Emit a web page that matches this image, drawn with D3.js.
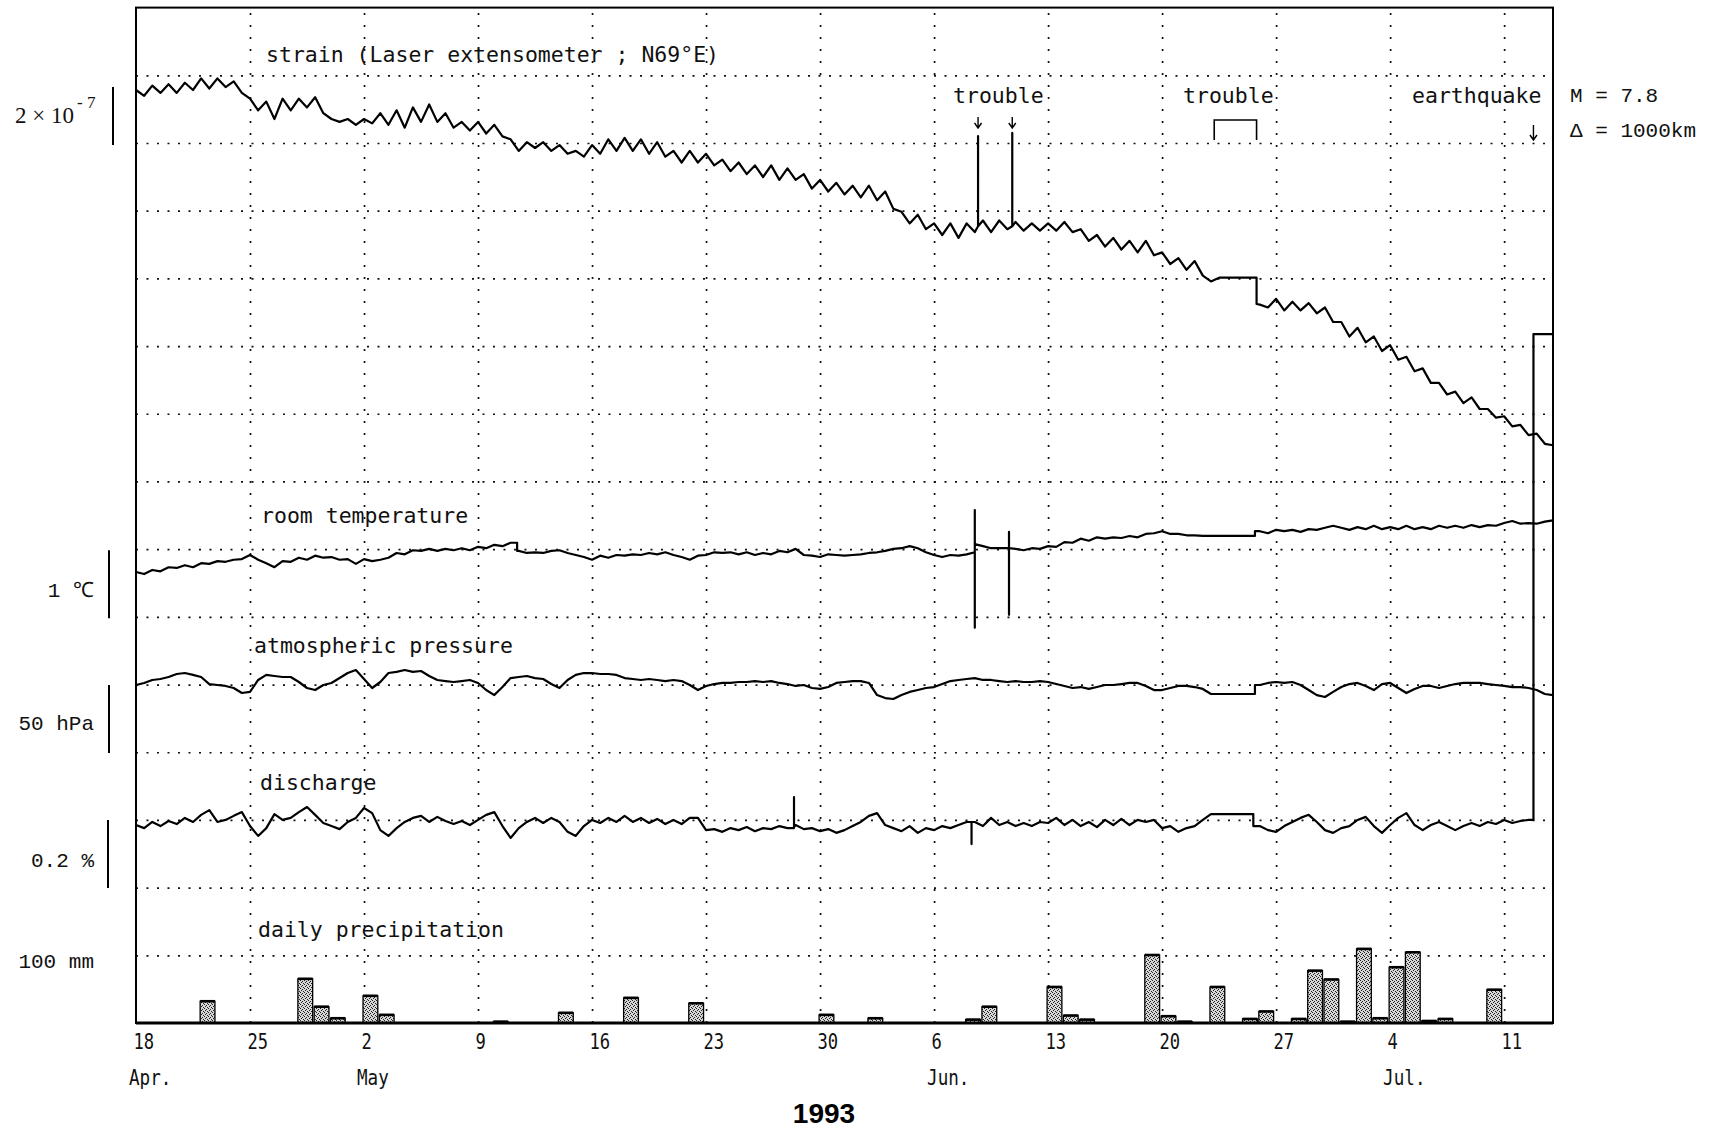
<!DOCTYPE html>
<html>
<head>
<meta charset="utf-8">
<script src="https://cdn.jsdelivr.net/npm/d3@7"></script>
<style>
body{margin:0;background:#fff}
svg{display:block}
</style>
</head>
<body>
<svg id="chart"></svg>
<script>
var screen = {width:1712, height:1131}
var frame = {left:136, right:1553, top:7.6, bottom:1023}

// x axis ticks (1993)
var weekTicks = ["1993-04-18","1993-04-25","1993-05-02","1993-05-09","1993-05-16","1993-05-23","1993-05-30",
                 "1993-06-06","1993-06-13","1993-06-20","1993-06-27","1993-07-04","1993-07-11"]
var monthTicks = ["1993-04-18","1993-05-02","1993-06-06","1993-07-04"]
var monthNames = ["Apr.","May","Jun.","Jul."]

// all traces sampled every half day from 18 Apr 00h
var stepDays = 0.5

// strain, units of 1e-8, relative to 18 Apr
var strainValues = [
  0,-2,1.5,-1,2,-1,2.5,0,4,0.5,
  4,1,3,-1,-3,-7,-4,-10,-3,-7,
  -3,-6,-2.5,-8,-10,-11,-10,-12,-10,-11.5,
  -8,-12,-7,-13,-6,-11,-5,-11,-8,-13,
  -11,-14,-11,-15,-12,-16,-17,-21,-18,-20,
  -18,-21,-19,-22,-21,-23,-19,-22,-17,-21,
  -16.5,-21,-17,-22,-18,-23,-21,-25,-21,-25,
  -22,-26,-24,-28,-25,-29,-26,-30,-26,-31,
  -27,-31,-29,-34,-31,-35,-32,-36,-33,-37,
  -33,-38,-35,-41,-42,-46,-43,-48,-46,-50,
  -46,-51,-46,-49,-45,-49,-45,-48,-45.5,-48.5,
  -46,-48.5,-46,-48.5,-45.5,-49,-48,-52,-50,-54,
  -51,-55,-52,-56,-52,-57,-56,-60,-58,-62,
  -59,-64,-66,-64.7,-64.7,-64.7,-64.7,-64.7,-74,-75,
  -72,-76,-73,-76,-73.5,-77,-75,-80,-80,-85,
  -82,-87,-85,-90,-88,-93,-92,-97,-96,-101,
  -101,-105,-104,-108,-106,-110,-110,-113,-112.5,-116,
  -115.5,-119,-118.5,-122,-122.5]
// [day, values passed through at that instant]
var strainEvents = [[51.7,-47,-15.9,-47],[53.8,-47,-14.8,-47],[68.8,-64.7,-73.8]]

// room temperature, deg C relative
var tempValues = [
  0,-0.03,0.03,0.01,0.07,0.06,0.10,0.07,0.13,0.12,
  0.16,0.15,0.18,0.19,0.25,0.18,0.13,0.07,0.16,0.15,
  0.21,0.18,0.24,0.21,0.22,0.18,0.19,0.12,0.19,0.16,
  0.18,0.21,0.28,0.26,0.32,0.31,0.34,0.31,0.34,0.32,
  0.35,0.32,0.37,0.35,0.40,0.38,0.43,0.31,0.28,0.29,
  0.28,0.31,0.32,0.28,0.25,0.22,0.18,0.24,0.21,0.25,
  0.24,0.26,0.25,0.28,0.26,0.29,0.25,0.22,0.18,0.24,
  0.25,0.29,0.28,0.29,0.26,0.29,0.25,0.28,0.26,0.31,
  0.29,0.34,0.25,0.24,0.22,0.26,0.25,0.24,0.25,0.26,
  0.28,0.29,0.31,0.34,0.35,0.38,0.35,0.29,0.25,0.22,
  0.25,0.24,0.26,0.29,0.38,0.35,0.35,0.35,0.34,0.32,
  0.35,0.34,0.38,0.37,0.44,0.43,0.49,0.46,0.51,0.49,
  0.51,0.50,0.53,0.51,0.56,0.57,0.60,0.56,0.56,0.54,
  0.54,0.53,0.53,0.53,0.53,0.53,0.53,0.53,0.60,0.57,
  0.62,0.60,0.62,0.59,0.63,0.62,0.65,0.68,0.65,0.62,
  0.66,0.63,0.68,0.63,0.66,0.63,0.68,0.63,0.66,0.63,
  0.68,0.65,0.68,0.65,0.69,0.66,0.69,0.68,0.72,0.75,
  0.71,0.72,0.71,0.74,0.76]
var tempEvents = [[23.4,0.43,0.31],[51.5,0.29,0.91,-0.82,0.41],[53.6,0.35,0.59,-0.63,0.35],[68.7,0.53,0.60]]

// atmospheric pressure, hPa relative
var pressureValues = [
  0,1.5,3.7,4.4,5.9,8.1,8.8,7.4,5.9,0.7,
  0,-0.7,-2.2,-5.9,-5.1,3.7,7.4,6.6,5.9,5.9,
  2.2,-2.2,-3.7,0,1.5,5.1,8.8,11.0,4.4,-2.2,
  2.2,8.8,9.6,11.0,9.6,10.3,6.6,3.7,2.9,2.2,
  2.9,3.7,1.5,-3.7,-7.4,-1.5,5.1,5.9,6.6,5.1,
  4.4,0.7,-2.2,3.7,7.4,8.8,8.8,8.1,8.1,7.4,
  5.1,4.4,3.7,4.4,3.7,2.9,3.7,2.9,0,-3.7,
  -0.7,0.7,1.5,1.5,2.2,2.2,2.9,2.2,2.9,1.5,
  0.7,-0.7,0,-2.2,-2.9,-1.5,1.5,2.2,2.9,2.9,
  1.5,-7.4,-9.6,-10.3,-7.4,-5.1,-3.7,-2.2,-1.5,0.7,
  2.9,3.7,4.4,5.1,3.7,3.7,2.9,2.2,2.9,2.2,
  2.2,2.9,2.2,0.7,-0.7,-2.2,-1.5,-2.9,-1.5,0,
  0,0.7,1.5,1.5,-0.7,-3.7,-3.7,-2.2,-0.7,-0.7,
  -1.5,-2.9,-6.6,-6.6,-6.6,-6.6,-6.6,-6.6,0,1.5,
  2.2,1.5,2.2,0,-3.7,-7.4,-8.8,-5.1,-1.5,0.7,
  1.5,-0.7,-3.7,0.7,1.5,-2.2,-5.9,-2.9,-0.7,-0.7,
  -2.2,-0.7,0.7,1.5,1.5,1.5,0.7,0,-0.7,-1.5,
  -1.5,-2.2,-3.7,-6.6,-7.4]
var pressureEvents = [[68.7,-6.6,0]]

// discharge, % relative
var dischargeValues = [
  -0.006,-0.015,0.003,-0.009,0.006,-0.003,0.015,0.003,0.024,0.038,
  0.003,0.009,0.021,0.032,-0.009,-0.038,-0.015,0.026,0.009,0.015,
  0.032,0.047,0.024,0,-0.009,-0.018,0.003,0.015,0.044,0.029,
  -0.021,-0.038,-0.015,0.003,0.015,0.021,0.003,0.018,0.006,-0.003,
  0.006,-0.006,0.009,0.024,0.032,-0.009,-0.044,-0.015,0.003,0.015,
  0,0.015,0.003,-0.026,-0.038,-0.009,0.009,0,0.015,0.003,
  0.021,0.003,0.015,0,0.012,-0.003,0.009,-0.003,0.015,0.015,
  -0.021,-0.018,-0.026,-0.015,-0.021,-0.012,-0.024,-0.015,-0.018,-0.009,
  -0.015,-0.006,-0.018,-0.015,-0.024,-0.018,-0.029,-0.021,-0.009,0.003,
  0.021,0.029,-0.006,-0.015,-0.024,-0.009,-0.029,-0.015,-0.021,-0.009,
  -0.015,-0.006,0.003,0.003,-0.009,0.015,-0.006,0.003,-0.009,0,
  -0.009,0.003,0,0.015,-0.006,0.009,-0.009,0.003,-0.012,0.009,
  -0.006,0.012,-0.006,0.009,0.003,0.009,-0.015,-0.009,-0.026,-0.015,
  -0.009,0.009,0.026,0.026,0.026,0.026,0.026,0.026,-0.009,-0.021,
  -0.026,-0.009,0.003,0.015,0.024,0.003,-0.021,-0.029,-0.015,-0.009,
  0.009,0.018,-0.009,-0.029,-0.006,0.015,0.029,-0.006,-0.021,-0.006,
  0.003,-0.009,-0.021,-0.009,0,-0.009,0.003,-0.003,0.009,0,
  0.006,0.009,1.438,1.438,1.438]
var dischargeEvents = [[40.4,-0.015,0.076,-0.012],[51.3,0.003,-0.062,0.003],[68.6,0.026,-0.009],[85.8,0.009,1.438]]

// daily precipitation, mm
var rainDates = ["1993-04-22","1993-04-28","1993-04-29","1993-04-30","1993-05-02","1993-05-03","1993-05-10",
                 "1993-05-14","1993-05-18","1993-05-22","1993-05-30","1993-06-02","1993-06-08","1993-06-09",
                 "1993-06-13","1993-06-14","1993-06-15","1993-06-19","1993-06-20","1993-06-21","1993-06-23",
                 "1993-06-25","1993-06-26","1993-06-28","1993-06-29","1993-06-30","1993-07-01","1993-07-02",
                 "1993-07-03","1993-07-04","1993-07-05","1993-07-06","1993-07-07","1993-07-10"]
var rainMm = [32,65,24,7,40,12,2,15,37,29,12,7,5,24,53,11,5,100,10,2,53,6,17,6,77,64,2,109,7,82,104,3,6,49]

// annotations (days after 18 Apr)
var troubleSpikes = [51.7, 53.8]
var troubleSpan = [66.2, 68.8]
var quakeDay = 85.8

var parseDay = d3.utcParse("%Y-%m-%d")
var start = parseDay("1993-04-18")
var toDate = function(day){ return new Date(start.getTime() + day*864e5) }

var xScale = d3.scaleUtc()
    .domain([toDate(0), toDate(87)])
    .range([frame.left, frame.right])
var gridScale = d3.scaleLinear().domain([0,15]).range([frame.top, frame.bottom])

var yStrain = d3.scaleLinear().domain([0,-20]).range([90,148])      // 2e-7 = 20 units
var yTemp = d3.scaleLinear().domain([0,1]).range([572,504])
var yPres = d3.scaleLinear().domain([0,50]).range([685,617])
var yDis = d3.scaleLinear().domain([0,0.2]).range([823,755])
var yRain = d3.scaleLinear().domain([0,100]).range([frame.bottom, frame.bottom-68])

var svg = d3.select("#chart")
    .attr("width",screen.width)
    .attr("height",screen.height)

// stipple for rain bars
var pat = svg.append("defs").append("pattern")
    .attr("id","stipple").attr("width",4).attr("height",4)
    .attr("patternUnits","userSpaceOnUse")
pat.append("rect").attr("width",4).attr("height",4).attr("fill","#d6d6d6")
;[[0,0],[2,1],[1,2],[3,3]].forEach(function(p){
    pat.append("rect").attr("x",p[0]).attr("y",p[1]).attr("width",1).attr("height",1).attr("fill","#222")
})

// dotted grid
var weekDates = weekTicks.map(parseDay)
var vGrid = svg.append("g")
    .attr("transform","translate(0,"+frame.bottom+")")
    .call(d3.axisBottom(xScale).tickValues(weekDates.slice(1)).tickSize(-(frame.bottom-frame.top)).tickFormat(""))
var hGrid = svg.append("g")
    .attr("transform","translate("+frame.left+",0)")
    .call(d3.axisLeft(gridScale).tickValues(d3.range(1,15)).tickSize(-(frame.right-frame.left)).tickFormat(""))
svg.selectAll(".domain").remove()
vGrid.selectAll("line").attr("stroke","#111").attr("stroke-width",1.7).attr("stroke-dasharray","2,10")
hGrid.selectAll("line").attr("stroke","#111").attr("stroke-width",1.7).attr("stroke-dasharray","2,8.5")

// rain bars
var dayW = xScale(toDate(1)) - xScale(toDate(0))
var bars = svg.append("g")
bars.selectAll("rect")
    .data(rainMm)
    .enter()
    .append("rect")
    .attr("x", function(d,i){ return xScale(parseDay(rainDates[i])) - 1 })
    .attr("width", dayW - 1.5)
    .attr("y", function(d){ return yRain(d) })
    .attr("height", function(d){ return yRain(0) - yRain(d) })
    .attr("fill","url(#stipple)")
    .attr("stroke","#000")
    .attr("stroke-width",1.3)
bars.selectAll("line")
    .data(rainMm)
    .enter()
    .append("line")
    .attr("x1", function(d,i){ return xScale(parseDay(rainDates[i])) - 1 })
    .attr("x2", function(d,i){ return xScale(parseDay(rainDates[i])) - 2.5 + dayW })
    .attr("y1", function(d){ return yRain(d) })
    .attr("y2", function(d){ return yRain(d) })
    .attr("stroke","#000").attr("stroke-width",2.6)

// frame
svg.append("rect")
    .attr("x",frame.left).attr("y",frame.top)
    .attr("width",frame.right-frame.left).attr("height",frame.bottom-frame.top)
    .attr("fill","none").attr("stroke","#000").attr("stroke-width",2)
svg.append("line")
    .attr("x1",frame.left).attr("x2",frame.right)
    .attr("y1",frame.bottom).attr("y2",frame.bottom)
    .attr("stroke","#000").attr("stroke-width",3)

// traces
var buildPoints = function(values, events)
{
    var pts = values.map(function(v,i){ return {day:i*stepDays, v:v, o:0} })
    events.forEach(function(e){
        e.slice(1).forEach(function(v,k){ pts.push({day:e[0], v:v, o:k+1}) })
    })
    pts.sort(function(a,b){ return (a.day - b.day) || (a.o - b.o) })
    return pts
}

var traces = [
    {values:strainValues, events:strainEvents, y:yStrain},
    {values:tempValues, events:tempEvents, y:yTemp},
    {values:pressureValues, events:pressureEvents, y:yPres},
    {values:dischargeValues, events:dischargeEvents, y:yDis}
]
traces.forEach(function(t){
    var line = d3.line()
        .x(function(p){ return xScale(toDate(p.day)) })
        .y(function(p){ return t.y(p.v) })
    svg.append("path")
        .datum(buildPoints(t.values, t.events))
        .attr("d", line)
        .attr("fill","none")
        .attr("stroke","#000")
        .attr("stroke-width",2.2)
        .attr("stroke-linejoin","round")
})

// x axis labels
var dayAxis = svg.append("g")
    .attr("transform","translate(0,"+frame.bottom+")")
    .call(d3.axisBottom(xScale).tickValues(weekDates).tickSize(0).tickPadding(10).tickFormat(d3.utcFormat("%-d")))
dayAxis.select(".domain").remove()
dayAxis.attr("font-family","'DejaVu Sans Mono', monospace").attr("font-size",22).attr("text-anchor","start")
dayAxis.selectAll("text").attr("transform","scale(0.78,1)").attr("x",-4).attr("fill","#111")

var monthAxis = svg.append("g")
    .attr("transform","translate(0,"+frame.bottom+")")
    .call(d3.axisBottom(xScale).tickValues(monthTicks.map(parseDay)).tickSize(0).tickPadding(47)
        .tickFormat(function(d,i){ return monthNames[i] }))
monthAxis.select(".domain").remove()
monthAxis.attr("font-family","'DejaVu Sans Mono', monospace").attr("font-size",21).attr("text-anchor","start")
monthAxis.selectAll("text").attr("transform","scale(0.84,1)").attr("x",-9).attr("fill","#111")

svg.append("text")
    .attr("x",824).attr("y",1123)
    .attr("text-anchor","middle")
    .attr("font-family","'Liberation Sans', Arial, sans-serif")
    .attr("font-weight","bold").attr("font-size",28)
    .text("1993")

// panel titles
var mono = "'DejaVu Sans Mono', monospace"
var addText = function(str, x, y)
{
    return svg.append("text")
        .attr("x",x).attr("y",y)
        .attr("font-family",mono).attr("font-size",21.5).attr("fill","#111")
        .text(str)
}
addText("strain (Laser extensometer ; N69\u00b0E)", 266, 62)
addText("room temperature", 261, 523)
addText("atmospheric pressure", 254, 653)
addText("discharge", 260, 790)
addText("daily precipitation", 258, 937)
addText("trouble", 953, 103)
addText("trouble", 1183, 103)
addText("earthquake", 1412, 103)

// arrows and bracket
var arrow = function(x, y0, y1)
{
    svg.append("path")
        .attr("d","M"+x+","+y0+"V"+y1+"M"+(x-3.5)+","+(y1-5)+"L"+x+","+y1+"L"+(x+3.5)+","+(y1-5))
        .attr("fill","none").attr("stroke","#000").attr("stroke-width",1.4)
}
troubleSpikes.forEach(function(d){ arrow(xScale(toDate(d)), 117, 128) })
arrow(xScale(toDate(quakeDay)), 125, 140)
svg.append("path")
    .attr("d","M"+xScale(toDate(troubleSpan[0]))+",140V120H"+xScale(toDate(troubleSpan[1]))+"V140")
    .attr("fill","none").attr("stroke","#000").attr("stroke-width",1.6)

// scale labels and bars
var serifMono = "'Liberation Mono', 'Courier New', monospace"
var sLabel = function(str, y)
{
    svg.append("text")
        .attr("x",94).attr("y",y)
        .attr("text-anchor","end")
        .attr("font-family",serifMono).attr("font-size",21).attr("fill","#111")
        .text(str)
}
var pow = svg.append("text")
    .attr("x",15).attr("y",123)
    .attr("font-family","'Liberation Serif', serif").attr("font-size",23).attr("fill","#111")
pow.append("tspan").text("2 \u00d7 10")
pow.append("tspan").attr("dy",-15).attr("dx",3).attr("font-size",17).text("- 7")
sLabel("1 \u2103", 597)
sLabel("50 hPa", 730)
sLabel("0.2 %", 867)
sLabel("100 mm", 968)

var bar = function(x, y0, y1)
{
    svg.append("line").attr("x1",x).attr("x2",x).attr("y1",y0).attr("y2",y1)
        .attr("stroke","#000").attr("stroke-width",2)
}
bar(113, yStrain(1), yStrain(-19))
bar(109, yTemp(0.32), yTemp(-0.68))
bar(109, yPres(0), yPres(-50))
bar(108, yDis(0.009), yDis(-0.191))

// earthquake parameters
var rLabel = function(str, y)
{
    svg.append("text")
        .attr("x",1570).attr("y",y)
        .attr("font-family",serifMono).attr("font-size",21).attr("fill","#111")
        .text(str)
}
rLabel("M = 7.8", 102)
rLabel("\u0394 = 1000km", 137)
</script>
</body>
</html>
